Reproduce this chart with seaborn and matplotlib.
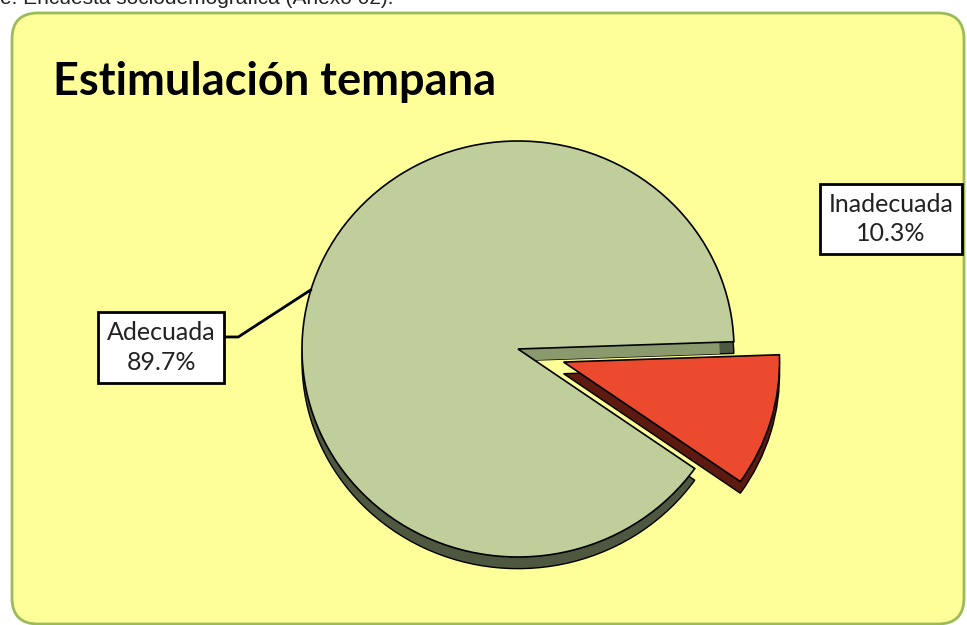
import numpy as np
import matplotlib.pyplot as plt
from matplotlib.patches import FancyBboxPatch
import seaborn as sns

# data
labels = ['Adecuada', 'Inadecuada']
percent = [89.7, 10.3]
title = 'Estimulación tempana'
source = 'e: Encuesta sociodemográfica (Anexo 02).'

sns.set_theme(style='white')
plt.rcParams['font.family'] = ['Lato', 'DejaVu Sans']

top_colors = sns.color_palette(['#BFCE9B', '#EB4A2F'])
side_colors = ['#4E5740', '#5C1A10']
cut_colors = ['#8A9A6C', 'none']

W, H = 967, 625
fig = plt.figure(figsize=(W / 100, H / 100), dpi=100)
fig.patch.set_facecolor('white')

# yellow rounded frame, in inches, kept behind the axes
frame = FancyBboxPatch((0.12, 0.01), 9.52, 6.11,
                       boxstyle='round,pad=0,rounding_size=0.26',
                       transform=fig.dpi_scale_trans, zorder=-5,
                       facecolor='#FFFF99', edgecolor='#9BBB59', lw=2)
fig.patches.append(frame)

# caption cut off at the top of the picture
fig.text(0, 1 - 4 / H, source, ha='left', va='baseline', fontsize=15,
         family='Liberation Sans', color='#222222')

fig.text(53 / W, 1 - 95 / H, title, ha='left', va='baseline',
         fontsize=32.5, fontweight='bold', color='black')

# pie axes
ax = fig.add_axes([194 / W, -36 / H, 648 / W, 624 / H])
ax.patch.set_alpha(0)
start = 2
explode = [0, 0.22]
depth = 0.056

# thickness: shifted copies under the top face
ax.pie(percent, colors=side_colors, startangle=start, explode=explode,
       center=(0, -depth), wedgeprops=dict(edgecolor='black', lw=1))
ax.pie(percent, colors=cut_colors, startangle=start, explode=explode,
       radius=0.935, center=(0, -depth), wedgeprops=dict(lw=0))
ax.pie(percent, colors=top_colors, startangle=start, explode=explode,
       wedgeprops=dict(edgecolor='black', lw=1.2))

ax.set_aspect('auto')
ax.set_xlim(-1.5, 1.5)
ax.set_ylim(-1.5, 1.5)
ax.axis('off')

# labels
box = dict(boxstyle='square,pad=0.36', fc='white', ec='black', lw=2)
mid = np.radians(start + 360 * percent[0] / 2 / sum(percent))
ax.annotate(f'{labels[0]}\n{percent[0]:.1f}%', xy=(np.cos(mid), np.sin(mid)),
            xycoords='data', xytext=(161, H - 347.5), textcoords='figure pixels',
            ha='center', va='center', fontsize=18, color='#222222',
            linespacing=1.35, bbox=box, annotation_clip=False,
            arrowprops=dict(arrowstyle='-', color='black', lw=2,
                            connectionstyle='angle,angleA=0,angleB=33,rad=0',
                            relpos=(1.0, 0.7), shrinkA=0, shrinkB=0))
fig.text(891 / W, 1 - 219 / H, f'{labels[1]}\n{percent[1]:.1f}%',
         ha='center', va='center', fontsize=18, color='#222222',
         linespacing=1.35, bbox=box)

fig.savefig('out.png', dpi=100, facecolor=fig.get_facecolor())
